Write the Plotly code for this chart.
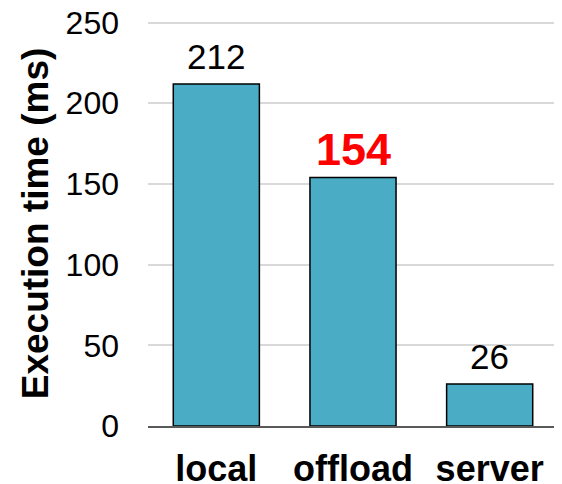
import plotly.graph_objects as go

categories = ["local", "offload", "server"]
values = [212, 154, 26]
label_colors = ["black", "red", "black"]
label_sizes = [35, 45]
y_ticks = [0, 50, 100, 150, 200, 250]

FONT = "Liberation Sans, Arial, sans-serif"

fig = go.Figure()
fig.add_trace(go.Bar(
    x=categories,
    y=values,
    marker=dict(color="#4BACC6", line=dict(color="black", width=1.5)),
    width=0.63,
    hoverinfo="skip",
))

for c, v, col in zip(categories, values, label_colors):
    bold = col == "red"
    fig.add_annotation(
        x=c, y=v, xref="x", yref="y",
        text=f"<b>{v}</b>" if bold else str(v),
        showarrow=False, yanchor="bottom",
        yshift=1 if bold else 6,
        font=dict(family=FONT, size=label_sizes[1] if bold else label_sizes[0], color=col),
    )

# page body has an 8px margin, so the figure is sized to the visible area
fig.update_layout(
    width=554, height=476,
    margin=dict(l=140, r=4, t=13, b=58),
    paper_bgcolor="white", plot_bgcolor="white",
    showlegend=False,
    font=dict(family=FONT, color="black"),
    xaxis=dict(
        showgrid=False, automargin=False,
        showline=True, linecolor="#595959", linewidth=1.5,
        tickfont=dict(size=36, family=FONT, weight="bold"),
        ticks="", ticklabelstandoff=10, ticklabeloverflow="allow",
    ),
    yaxis=dict(
        range=[0, 251], automargin=False,
        tickvals=y_ticks,
        showgrid=True, gridcolor="#d9d9d9", gridwidth=1.5,
        zeroline=False, showline=False,
        tickfont=dict(size=32, family=FONT),
        ticks="", ticklabelstandoff=28, ticklabeloverflow="allow",
        title=dict(text="<b>Execution time (ms)</b>", font=dict(size=37, family=FONT), standoff=5),
    ),
)

fig.write_html("out.html")
